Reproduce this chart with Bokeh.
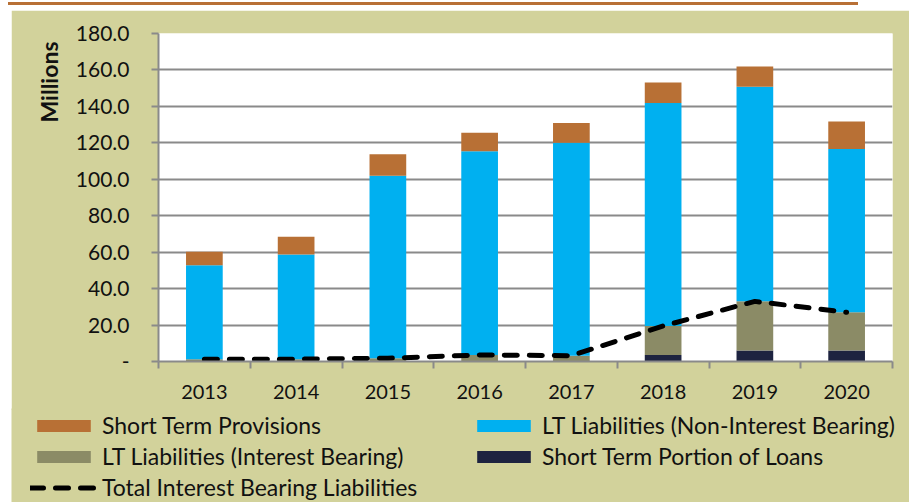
from bokeh.plotting import figure
from bokeh.models import (ColumnDataSource, FixedTicker, Legend, LegendItem, Title, Div,
                          NumeralTickFormatter, Range1d)
from bokeh.embed import file_html
from bokeh.resources import INLINE

# ---- data (millions) ----
years = ["2013", "2014", "2015", "2016", "2017", "2018", "2019", "2020"]
short_term_provisions = [7.4, 9.7, 11.7, 10.1, 10.9, 11.3, 11.1, 15.1]
lt_non_interest = [51.5, 57.4, 100.2, 111.8, 116.8, 122.3, 117.8, 89.6]
lt_interest = [1.3, 1.3, 1.8, 3.6, 3.2, 16.0, 27.0, 21.0]
short_term_loans = [0.0, 0.0, 0.0, 0.0, 0.0, 3.5, 6.0, 6.0]
total_interest = [1.3, 1.3, 1.8, 3.6, 3.2, 19.5, 33.0, 27.0]
y_ticks = [0, 20, 40, 60, 80, 100, 120, 140, 160, 180]
series_labels = ["Short Term Provisions", "LT Liabilities (Non-Interest Bearing)",
                 "LT Liabilities (Interest Bearing)", "Short Term Portion of Loans",
                 "Total Interest Bearing Liabilities"]

KHAKI = "#D2D29B"
ORANGE = "#B87035"
BLUE = "#00B0F0"
OLIVE = "#8B8B66"
NAVY = "#1D2340"
GRID = "#8A8A8A"
FONT = "Lato"

xs = [i + 0.5 for i in range(len(years))]
src = ColumnDataSource(dict(
    x=xs, year=years,
    stpl=short_term_loans, ltib=lt_interest, ltni=lt_non_interest,
    stp=short_term_provisions, total=total_interest,
))

# thin orange rule at the top of the page
rule = Div(text="", width=850, height=3,
           styles={"background-color": ORANGE, "margin-left": "8px", "margin-top": "2px"})

p = figure(width=898, height=400, x_range=Range1d(0, len(years)), y_range=Range1d(0, 180),
           output_backend="svg", toolbar_location=None,
           min_border_left=147, min_border_right=17, min_border_top=23, min_border_bottom=49,
           border_fill_color=KHAKI, background_fill_color="white", outline_line_color=None,
           styles={"margin-left": "11px", "margin-top": "4px"})

bars = p.vbar_stack(["stpl", "ltib", "ltni", "stp"], x="x", width=0.4,
                    color=[NAVY, OLIVE, BLUE, ORANGE], line_color=None, source=src)
line = p.line("x", "total", source=src, line_color="black", line_width=5,
              line_dash="13 12", line_cap="round")

# axes
p.xgrid.visible = False
p.ygrid.grid_line_color = GRID
p.ygrid.grid_line_width = 2
p.ygrid.ticker = FixedTicker(ticks=y_ticks)

xa = p.xaxis[0]
xa.ticker = FixedTicker(ticks=xs, minor_ticks=list(range(len(years) + 1)))
xa.major_label_overrides = {x: y for x, y in zip(xs, years)}
xa.major_tick_out = 0
xa.major_tick_in = 0
xa.minor_tick_out = 7
xa.minor_tick_in = 0
xa.minor_tick_line_color = GRID
xa.minor_tick_line_width = 2
xa.axis_line_color = GRID
xa.axis_line_width = 2
xa.major_label_standoff = 16
xa.major_label_text_font = FONT
xa.major_label_text_font_size = "20px"
xa.major_label_text_color = "#111111"

ya = p.yaxis[0]
ya.ticker = FixedTicker(ticks=y_ticks, minor_ticks=[])
ya.formatter = NumeralTickFormatter(format="0.0")
ya.major_label_overrides = {0: "-"}
ya.major_tick_out = 7
ya.major_tick_in = 0
ya.major_tick_line_color = GRID
ya.major_tick_line_width = 2
ya.axis_line_color = GRID
ya.axis_line_width = 2
ya.major_label_standoff = 22
ya.major_label_text_font = FONT
ya.major_label_text_font_size = "21px"
ya.major_label_text_color = "#111111"

p.add_layout(Title(text="Millions", align="right", offset=8, standoff=20,
                   text_font=FONT, text_font_size="23px", text_font_style="bold",
                   text_color="#111111"), "left")

# ---- legend panel (separate root figure with the same khaki background) ----
q = figure(width=898, height=95, x_range=Range1d(0, 1), y_range=Range1d(0, 1),
           output_backend="svg", toolbar_location=None,
           x_axis_type=None, y_axis_type=None,
           min_border_left=0, min_border_right=0, min_border_top=0, min_border_bottom=0,
           border_fill_color=KHAKI, background_fill_color=KHAKI, outline_line_color=None,
           styles={"margin-left": "11px", "margin-top": "-2px"})
q.xgrid.visible = False
q.ygrid.visible = False
nan = float("nan")
key_colors = [ORANGE, BLUE, OLIVE, NAVY]
key_renderers = [q.vbar(x=[nan], top=[nan], width=0.1, color=c, line_color=None)
                 for c in key_colors]
key_renderers.append(q.line(x=[nan, nan], y=[nan, nan], line_color="black", line_width=5,
                            line_dash="13 12", line_cap="round"))
items = [LegendItem(label=lab, renderers=[r]) for lab, r in zip(series_labels, key_renderers)]

common = dict(orientation="vertical", glyph_width=67, glyph_height=15, label_standoff=5,
              label_height=24, spacing=3, padding=0, margin=0, border_line_color=None,
              background_fill_alpha=0, label_text_font=FONT, label_text_font_size="23px",
              label_text_color="#111111")
leg1 = Legend(items=[items[0], items[2], items[4]], location=(19, 2), **common)
leg2 = Legend(items=[items[1], items[3]], location=(459, 33), **common)
q.add_layout(leg1)
q.add_layout(leg2)

open("out.html", "w").write(file_html([rule, p, q], INLINE))
